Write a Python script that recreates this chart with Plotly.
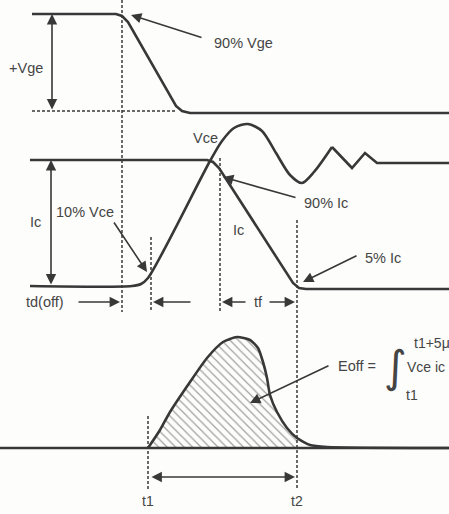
import plotly.graph_objects as go

# waveform outlines (pixel coords, y grows downward)
vge_x = [32, 116, 122, 128, 176, 182, 190, 449]
vge_y = [14, 14, 16, 22, 106, 111, 113, 113]

ic_x = [30, 207, 213, 219, 293, 299, 306, 449]
ic_y = [160, 160, 162, 168, 283, 288, 289, 289]

vce_x = [30, 132, 141, 148, 210, 222, 234, 248, 262, 276, 290, 302, 314, 332]
vce_y = [286, 286, 284, 278, 161, 141, 128, 124, 131, 153, 175, 183, 172, 147]

ring_x = [332, 352, 365, 377, 449]
ring_y = [147, 168, 153, 163, 163]

eoff_x = [148, 160, 170, 190, 207, 223, 237, 250, 258, 263, 267, 270, 277, 287, 297, 310, 327, 449]
eoff_y = [448, 430, 412, 382, 358, 342, 337, 340, 348, 362, 378, 395, 412, 428, 438, 445, 447, 448]

t1, t2 = 148, 297
baseline_y = 448

INK = "#383838"
FONT = dict(family="Liberation Sans, Arial, sans-serif", size=14.5, color="#454545")

fig = go.Figure()

# hatched energy area between t1 and t2
hx = [x for x in eoff_x if x <= t2]
hy = eoff_y[: len(hx)]
fig.add_trace(
    go.Scatter(
        x=hx + [t2, t1],
        y=hy + [baseline_y, baseline_y],
        fill="toself",
        mode="none",
        fillcolor="rgba(255,255,255,0)",
        fillpattern=dict(shape="\\", fgcolor="#444444", size=6, solidity=0.2),
        hoverinfo="skip",
    )
)

line = dict(color=INK, width=2.6)
fig.add_trace(go.Scatter(x=vge_x, y=vge_y, mode="lines", line=line))
fig.add_trace(go.Scatter(x=ic_x, y=ic_y, mode="lines", line=line))
fig.add_trace(go.Scatter(x=vce_x, y=vce_y, mode="lines", line=dict(line, shape="spline", smoothing=0.8)))
fig.add_trace(go.Scatter(x=ring_x, y=ring_y, mode="lines", line=line))
fig.add_trace(go.Scatter(x=[0, 449], y=[baseline_y, baseline_y], mode="lines", line=line))
fig.add_trace(go.Scatter(x=eoff_x, y=eoff_y, mode="lines", line=dict(line, shape="spline", smoothing=0.6)))

# dashed guide lines
dash = dict(color=INK, width=1.5, dash="3px,2px")
for x0, y0, x1, y1 in [
    (122, 0, 122, 312),
    (151, 237, 151, 312),
    (220, 158, 220, 312),
    (297, 220, 297, 490),
    (148, 416, 148, 490),
    (32, 111, 175, 111),
]:
    fig.add_shape(type="line", x0=x0, y0=y0, x1=x1, y1=y1, line=dash)

# arrows (tail -> head)
arrows = [
    ((52, 111), (52, 14), "end+start"),
    ((51, 286), (51, 160), "end+start"),
    ((77, 302), (120, 302), "end"),
    ((192, 302), (153, 302), "end"),
    ((247, 302), (222, 302), "end"),
    ((268, 302), (295, 302), "end"),
    ((150, 477), (295, 477), "end+start"),
    ((203, 38), (131, 15), "end"),
    ((113, 221), (147, 272), "end"),
    ((297, 198), (223, 177), "end"),
    ((358, 255), (303, 282), "end"),
    ((330, 365), (250, 403), "end"),
]
for (ax, ay), (x, y), side in arrows:
    fig.add_annotation(
        x=x, y=y, ax=ax, ay=ay, xref="x", yref="y", axref="x", ayref="y",
        text="", showarrow=True, arrowhead=2, arrowsize=1.3, arrowwidth=1.6,
        arrowcolor=INK, arrowside=side,
    )

labels = [
    ("+Vge", 26, 68, "center", 14.5),
    ("90% Vge", 212, 43, "left", 14.5),
    ("Vce", 205, 138, "center", 14.5),
    ("Ic", 35, 222, "center", 14.5),
    ("10% Vce", 54, 212, "left", 14.5),
    ("Ic", 238, 230, "center", 14.5),
    ("90% Ic", 302, 203, "left", 14.5),
    ("5% Ic", 363, 258, "left", 14.5),
    ("td(off)", 24, 302, "left", 14.5),
    ("tf", 258, 302, "center", 14.5),
    ("Eoff =", 336, 366, "left", 14.5),
    ("t1+5μ", 412, 343, "left", 14),
    ("Vce ic", 405, 367, "left", 14),
    ("t1", 412, 395, "center", 14),
    ("t1", 148, 501, "center", 14),
    ("t2", 297, 501, "center", 14),
]
for text, x, y, anchor, size in labels:
    fig.add_annotation(
        x=x, y=y, xref="x", yref="y", text=text, showarrow=False,
        xanchor=anchor, yanchor="middle", font=dict(FONT, size=size),
    )

fig.add_annotation(
    x=395, y=366, xref="x", yref="y", text="∫", showarrow=False,
    xanchor="center", yanchor="middle", borderpad=0,
    font=dict(family="DejaVu Sans", size=44, color="#454545"),
)

fig.update_xaxes(range=[0, 449], visible=False, fixedrange=True)
fig.update_yaxes(range=[514, 0], visible=False, fixedrange=True)
fig.update_layout(
    width=449,
    height=514,
    margin=dict(l=0, r=0, t=0, b=0),
    showlegend=False,
    plot_bgcolor="#fdfdfc",
    paper_bgcolor="#fdfdfc",
)

fig.write_html(
    "out.html",
    config={"displayModeBar": False},
    post_script="document.body.style.margin='0';",
)
